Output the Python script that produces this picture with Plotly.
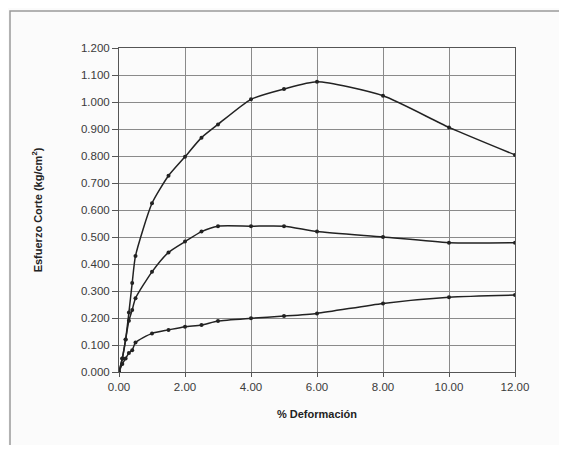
import plotly.graph_objects as go

deformacion = [0, 0.1, 0.2, 0.3, 0.4, 0.5, 1.0, 1.5, 2.0, 2.5, 3.0, 4.0, 5.0, 6.0, 8.0, 10.0, 12.0]
esfuerzo_alto = [0, 0.05, 0.12, 0.22, 0.33, 0.43, 0.625, 0.727, 0.797, 0.868, 0.917, 1.01, 1.048, 1.075, 1.023, 0.906, 0.804]
esfuerzo_medio = [0, 0.05, 0.12, 0.19, 0.23, 0.273, 0.371, 0.443, 0.483, 0.52, 0.54, 0.54, 0.54, 0.52, 0.50, 0.479, 0.479]
esfuerzo_bajo = [0, 0.03, 0.05, 0.07, 0.081, 0.109, 0.143, 0.156, 0.168, 0.174, 0.189, 0.199, 0.207, 0.217, 0.254, 0.277, 0.285]

x_ticks = [0, 2, 4, 6, 8, 10, 12]
y_ticks = [0, 0.1, 0.2, 0.3, 0.4, 0.5, 0.6, 0.7, 0.8, 0.9, 1.0, 1.1, 1.2]

fig = go.Figure()
for ys in (esfuerzo_alto, esfuerzo_medio, esfuerzo_bajo):
    fig.add_trace(go.Scatter(
        x=deformacion, y=ys, mode="lines+markers",
        line=dict(color="#222222", width=1.5, shape="spline", smoothing=0.6),
        marker=dict(color="#222222", size=4, symbol="circle"),
        showlegend=False,
    ))

# outer frame: left and top edges only (the rest falls outside the picture)
fl, ft, fr, fb = -109/396, 1 + 37/324, 1.5, -0.5
frame_path = f"M {fl},{fb} L {fl},{ft} L {fr},{ft}"

font_family = "Liberation Sans, Arial, sans-serif"
fig.update_layout(
    width=551, height=437,
    margin=dict(l=111, r=44, t=40, b=73),
    paper_bgcolor="#fbfbfb",
    plot_bgcolor="#fbfbfb",
    font=dict(family=font_family, size=11.5, color="#3a3a3a"),
    xaxis=dict(
        range=[0, 12], tickvals=x_ticks, tickformat=".2f",
        showgrid=True, gridcolor="#8a8a8a", gridwidth=1,
        showline=True, linecolor="#555555", linewidth=1, mirror=True,
        ticks="outside", ticklen=4, tickcolor="#555555",
        zeroline=False,
        title=dict(text="<b>% Deformación</b>", font=dict(size=11, color="#222222"), standoff=18),
    ),
    yaxis=dict(
        range=[0, 1.2], tickvals=y_ticks, tickformat=".3f",
        showgrid=True, gridcolor="#8a8a8a", gridwidth=1,
        showline=True, linecolor="#555555", linewidth=1, mirror=True,
        ticks="outside", ticklen=6, tickcolor="#555555",
        zeroline=False,
        title=dict(text="<b>Esfuerzo Corte (kg/cm<sup>2</sup>)</b>", font=dict(size=11, color="#222222"), standoff=36),
    ),
    shapes=[dict(
        type="path", xref="paper", yref="paper", path=frame_path,
        line=dict(color="#9a9a9a", width=1.5), layer="below",
    )],
)

fig.write_html("out.html")
